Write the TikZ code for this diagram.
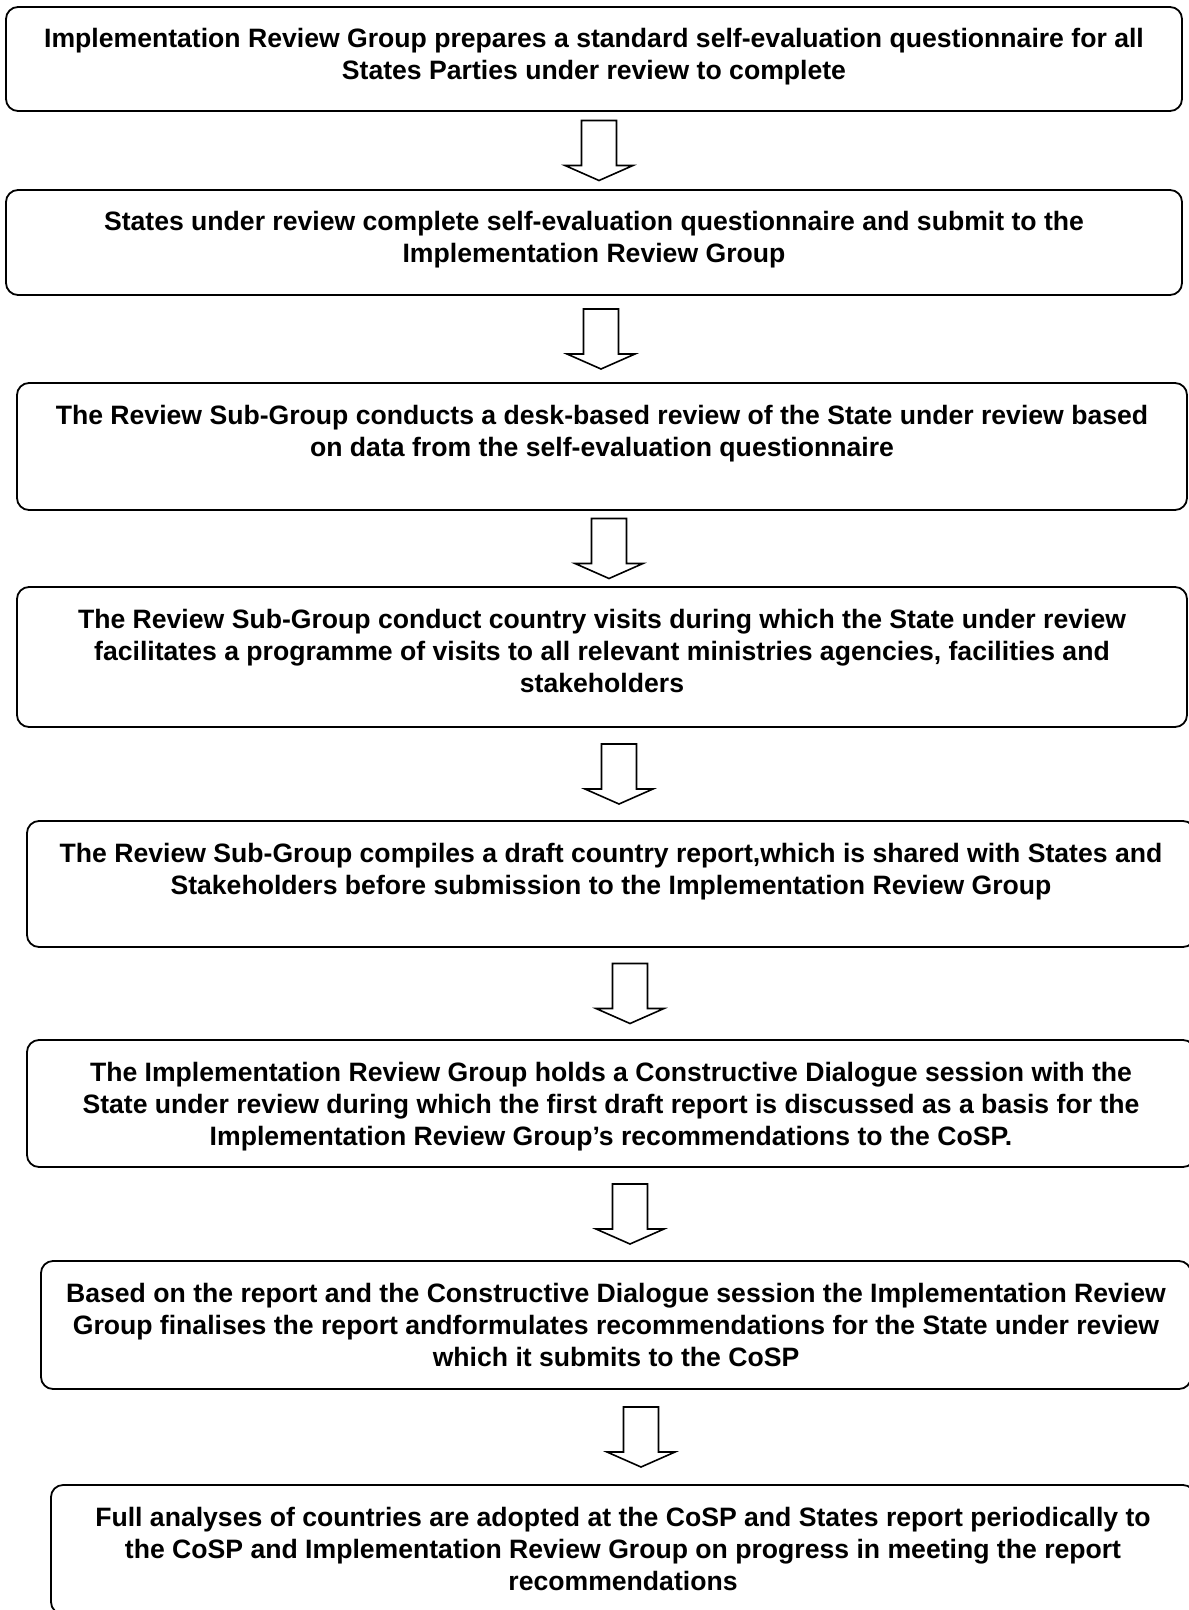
\documentclass[tikz,border=0pt]{standalone}
\usepackage{fontspec}
\setmainfont{Liberation Sans}
\usepackage{tikz}
\usetikzlibrary{calc}
\tikzset{stepbox/.style={draw, rounded corners=6pt, line width=0.9pt, inner sep=0pt, outer sep=0pt},
%hollow block arrow, 60 units long, centred on its origin
flowarrow/.pic={\draw[line width=0.8pt, line join=miter] (-17.5,-30) -- (-17.5,15) -- (-34,15) -- (0,30) -- (34,15) -- (17.5,15) -- (17.5,-30) -- cycle;}}
% height, width (in px of the picture), text
\newcommand{\stepbody}[3]{\parbox[c][\dimexpr #1pt/2\relax][t]{\dimexpr #2pt/2\relax}{\centering\fontsize{13.3pt}{16pt}\selectfont\bfseries\rule{0pt}{20.5pt}#3}}

\begin{document}
\begin{tikzpicture}[x=0.5pt,y=-0.5pt]
 \useasboundingbox (0,0) rectangle (1188,1610);

 \node[stepbox] (s1) at (594,59) {\stepbody{104}{1176}{Implementation Review Group prepares a standard self-evaluation questionnaire for all\\States Parties under review to complete}};
 \node[stepbox] (s2) at (594,242.5) {\stepbody{105}{1176}{States under review complete self-evaluation questionnaire and submit to the\\Implementation Review Group}};
 \node[stepbox] (s3) at (602,446.5) {\stepbody{127}{1170}{The Review Sub-Group conducts a desk-based review of the State under review based\\on data from the self-evaluation questionnaire}};
 \node[stepbox] (s4) at (602,657) {\stepbody{140}{1170}{The Review Sub-Group conduct country visits during which the State under review\\facilitates a programme of visits to all relevant ministries agencies, facilities and\\stakeholders}};
 \node[stepbox] (s5) at (611,884) {\stepbody{126}{1168}{The Review Sub-Group compiles a draft country report,which is shared with States and\\Stakeholders before submission to the Implementation Review Group}};
 \node[stepbox] (s6) at (611,1103.5) {\stepbody{127}{1168}{The Implementation Review Group holds a Constructive Dialogue session with the\\State under review during which the first draft report is discussed as a basis for the\\Implementation Review Group’s recommendations to the CoSP.}};
 \node[stepbox] (s7) at (616,1325) {\stepbody{128}{1150}{Based on the report and the Constructive Dialogue session the Implementation Review\\Group finalises the report andformulates recommendations for the State under review\\which it submits to the CoSP}};
 \node[stepbox] (s8) at (623,1549.5) {\stepbody{129}{1144}{Full analyses of countries are adopted at the CoSP and States report periodically to\\the CoSP and Implementation Review Group on progress in meeting the report\\recommendations}};

 \pic at ($(s1.south)!0.5!(s2.north)+(5,0)$) {flowarrow};
 \pic at ($(s2.south)!0.5!(s3.north)+(3,0)$) {flowarrow};
 \pic at ($(s3.south)!0.5!(s4.north)+(7,0)$) {flowarrow};
 \pic at ($(s4.south)!0.5!(s5.north)+(12.5,0)$) {flowarrow};
 \pic at ($(s5.south)!0.5!(s6.north)+(19,0)$) {flowarrow};
 \pic at ($(s6.south)!0.5!(s7.north)+(16.5,0)$) {flowarrow};
 \pic at ($(s7.south)!0.5!(s8.north)+(21.5,0)$) {flowarrow};

\end{tikzpicture}
\end{document}
